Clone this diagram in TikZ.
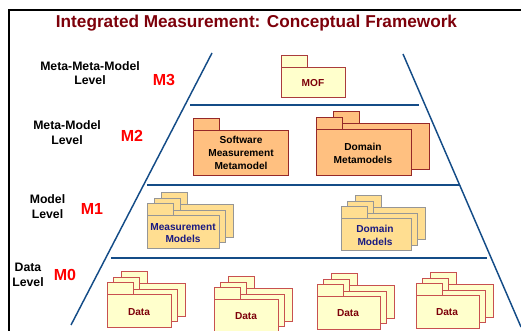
\documentclass[tikz,border=0pt]{standalone}
\usepackage{fontspec}
\setmainfont{Liberation Sans}
\definecolor{titlered}{RGB}{125,0,10}
\definecolor{levelblue}{RGB}{20,76,135}
\definecolor{navytext}{RGB}{25,25,130}
\definecolor{orangefill}{RGB}{255,192,128}
\definecolor{creamfill}{RGB}{255,255,204}
\definecolor{modelfill}{RGB}{255,222,145}
\tikzset{
  levelline/.style={draw=levelblue,line width=1.1pt},
  metapkg/.style={draw={rgb,255:red,150;green,40;blue,40},fill=orangefill,line width=0.75pt},
  mofpkg/.style={draw={rgb,255:red,170;green,60;blue,60},fill=creamfill,line width=0.75pt},
  modelpkg/.style={draw={rgb,255:red,150;green,150;blue,150},fill=modelfill,line width=0.75pt},
  datapkg/.style={draw={rgb,255:red,200;green,80;blue,80},fill=creamfill,line width=0.75pt},
  leveltext/.style={font=\fontsize{9.2}{10.8}\selectfont\bfseries,align=center,inner sep=0.75pt},
  mtext/.style={font=\fontsize{12}{14}\selectfont\bfseries,text=red,inner sep=0.75pt},
  pkgtext/.style={font=\fontsize{7.6}{9.6}\selectfont\bfseries,align=center,inner sep=0.75pt},
}
% #1 style, (#2,#3) top left of tab, (#4,#5) bottom right of body
\newcommand{\pkgshape}[5]{
  \draw [#1] (#2,#3) rectangle (#2+26,#3+12);
  \draw [#1] (#2,#3+12) rectangle (#4,#5);
}
% three packages one behind the other, arguments give the front one
\newcommand{\pkgstack}[5]{
  \pkgshape{#1}{#2+14}{#3-11}{#4+14}{#5-11}
  \pkgshape{#1}{#2+6.5}{#3-5.5}{#4+6.5}{#5-5.5}
  \pkgshape{#1}{#2}{#3}{#4}{#5}
}

\begin{document}
\begin{tikzpicture}[x=0.75pt,y=0.75pt,yscale=-1,xscale=1]
\useasboundingbox (0,0) rectangle (521,331);

%frame
\draw [line width=1.5pt] (9,331) -- (9,10) -- (521,10);

%pyramid sides
\draw [levelline] (212,53) -- (71,325);
\draw [levelline] (403,54) -- (521,327);
%level lines
\draw [levelline] (190,105) -- (419,105);
\draw [levelline] (147,185) -- (459,185);
\draw [levelline] (111,258) -- (487,258);

%M3
\pkgshape{mofpkg}{281}{56}{345}{98}
%M2
\pkgshape{metapkg}{193}{118.5}{288}{176}
\pkgshape{metapkg}{333}{112}{429}{170}
\pkgshape{metapkg}{316}{118}{411}{175.5}
%M1
\pkgstack{modelpkg}{147.5}{204}{219}{248.5}
\pkgstack{modelpkg}{341}{207}{411}{251}
%M0
\pkgstack{datapkg}{107}{283}{171}{327}
\pkgstack{datapkg}{214}{288}{278}{332}
\pkgstack{datapkg}{317}{285}{380}{329}
\pkgstack{datapkg}{416}{284}{479}{328}

% Text Node
\node (title) [font=\fontsize{12.9}{15}\selectfont\bfseries,text=titlered,inner sep=0.75pt] at (256.5,23) {Integrated Measurement: Conceptual Framework};
% Text Node
\node (metametalabel) [leveltext] at (90,73) {Meta-Meta-Model\\Level};
\node (metalabel) [leveltext] at (67,132.5) {Meta-Model\\Level};
\node (modellabel) [leveltext] at (47.5,206.5) {Model\\Level};
\node (datalabel) [leveltext] at (28,275) {Data\\Level};
% Text Node
\node (mthree) [mtext] at (164,80) {M3};
\node (mtwo) [mtext] at (132,135.5) {M2};
\node (mone) [mtext] at (92,208.5) {M1};
\node (mzero) [mtext] at (65,275) {M0};
% Text Node
\node (mof) [pkgtext,text=titlered] at (313,83) {MOF};
\node (software) [pkgtext,text=black] at (241,153) {Software\\Measurement\\Metamodel};
\node (domainmeta) [pkgtext,text=black] at (363,153) {Domain\\Metamodels};
\node (measurement) [pkgtext,text=navytext] at (183,233) {Measurement\\Models};
\node (domainmodels) [pkgtext,text=navytext] at (375,235) {Domain\\Models};
\node (dataone) [pkgtext,text=titlered] at (139,312) {Data};
\node (datatwo) [pkgtext,text=titlered] at (246,316) {Data};
\node (datathree) [pkgtext,text=titlered] at (348,313) {Data};
\node (datafour) [pkgtext,text=titlered] at (447,312) {Data};
\end{tikzpicture}
\end{document}
